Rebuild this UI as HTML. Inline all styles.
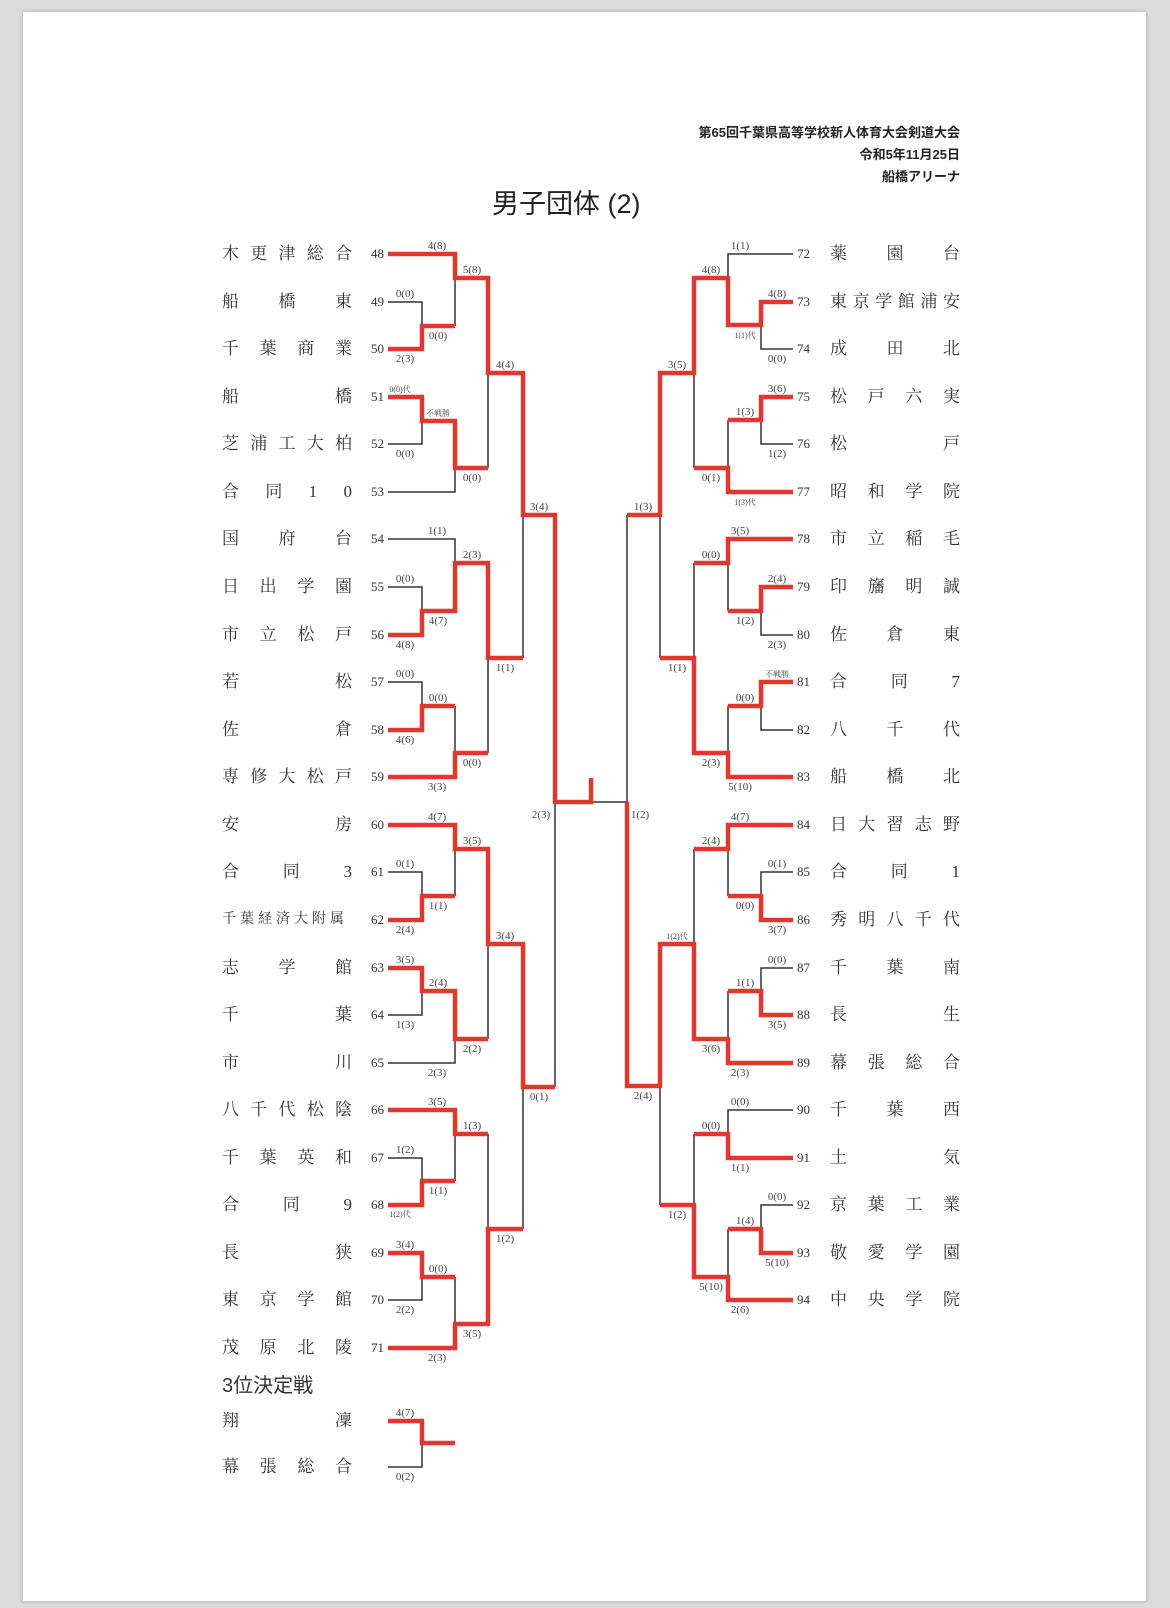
<!DOCTYPE html>
<html><head><meta charset="utf-8">
<style>
html,body{margin:0;padding:0;}
body{width:1170px;height:1608px;background:#dcdcdc;position:relative;overflow:hidden;font-family:"Liberation Serif","Noto Serif CJK SC",serif;color:#333;}
#paper{position:absolute;left:23px;top:12px;width:1123px;height:1589px;background:#fff;box-shadow:0 0 4px rgba(0,0,0,0.25);}
.n{position:absolute;width:130px;height:22px;display:flex;justify-content:space-between;align-items:center;font-size:17px;line-height:22px;color:#333;}
.l{left:222px;}
.r{left:830px;}
.num{position:absolute;font-size:13px;line-height:16px;color:#333;}
.nl{left:344px;width:40px;text-align:right;}
.nr{left:797px;}
.hd{position:absolute;right:210px;font-family:"Liberation Sans","Noto Sans CJK JP",sans-serif;font-weight:bold;font-size:13px;color:#222;text-align:right;white-space:nowrap;}
svg{position:absolute;left:0;top:0;}
svg text{font-family:"Liberation Serif","Noto Serif CJK SC",serif;font-size:11px;fill:#444;text-anchor:middle;}
svg text.s{font-size:8px;}
</style></head><body>
<div id="paper"></div>
<div class="hd" style="top:122px">第65回千葉県高等学校新人体育大会剣道大会</div>
<div class="hd" style="top:144px">令和5年11月25日</div>
<div class="hd" style="top:166px">船橋アリーナ</div>
<div style="position:absolute;left:492px;top:186px;font-family:'Liberation Sans','Noto Sans CJK JP',sans-serif;font-size:27px;line-height:36px;color:#222;">男子団体 (2)</div>
<div style="position:absolute;left:222px;top:1373px;font-family:'Liberation Sans','Noto Sans CJK JP',sans-serif;font-size:20px;line-height:26px;color:#333;">3位決定戦</div>

<!-- left names -->
<div class="n l" style="top:243px"><span>木</span><span>更</span><span>津</span><span>総</span><span>合</span></div>
<div class="n l" style="top:291px"><span>船</span><span>橋</span><span>東</span></div>
<div class="n l" style="top:338px"><span>千</span><span>葉</span><span>商</span><span>業</span></div>
<div class="n l" style="top:386px"><span>船</span><span>橋</span></div>
<div class="n l" style="top:433px"><span>芝</span><span>浦</span><span>工</span><span>大</span><span>柏</span></div>
<div class="n l" style="top:481px"><span>合</span><span>同</span><span>1</span><span>0</span></div>
<div class="n l" style="top:528px"><span>国</span><span>府</span><span>台</span></div>
<div class="n l" style="top:576px"><span>日</span><span>出</span><span>学</span><span>園</span></div>
<div class="n l" style="top:624px"><span>市</span><span>立</span><span>松</span><span>戸</span></div>
<div class="n l" style="top:671px"><span>若</span><span>松</span></div>
<div class="n l" style="top:719px"><span>佐</span><span>倉</span></div>
<div class="n l" style="top:766px"><span>専</span><span>修</span><span>大</span><span>松</span><span>戸</span></div>
<div class="n l" style="top:814px"><span>安</span><span>房</span></div>
<div class="n l" style="top:861px"><span>合</span><span>同</span><span>3</span></div>
<div class="n l" style="top:909px;font-size:14px;justify-content:flex-start;letter-spacing:4px;">千葉経済大附属</div>
<div class="n l" style="top:957px"><span>志</span><span>学</span><span>館</span></div>
<div class="n l" style="top:1004px"><span>千</span><span>葉</span></div>
<div class="n l" style="top:1052px"><span>市</span><span>川</span></div>
<div class="n l" style="top:1099px"><span>八</span><span>千</span><span>代</span><span>松</span><span>陰</span></div>
<div class="n l" style="top:1147px"><span>千</span><span>葉</span><span>英</span><span>和</span></div>
<div class="n l" style="top:1194px"><span>合</span><span>同</span><span>9</span></div>
<div class="n l" style="top:1242px"><span>長</span><span>狭</span></div>
<div class="n l" style="top:1289px"><span>東</span><span>京</span><span>学</span><span>館</span></div>
<div class="n l" style="top:1337px"><span>茂</span><span>原</span><span>北</span><span>陵</span></div>
<div class="n l" style="top:1410px"><span>翔</span><span>凜</span></div>
<div class="n l" style="top:1456px"><span>幕</span><span>張</span><span>総</span><span>合</span></div>

<!-- right names -->
<div class="n r" style="top:243px"><span>薬</span><span>園</span><span>台</span></div>
<div class="n r" style="top:291px"><span>東</span><span>京</span><span>学</span><span>館</span><span>浦</span><span>安</span></div>
<div class="n r" style="top:338px"><span>成</span><span>田</span><span>北</span></div>
<div class="n r" style="top:386px"><span>松</span><span>戸</span><span>六</span><span>実</span></div>
<div class="n r" style="top:433px"><span>松</span><span>戸</span></div>
<div class="n r" style="top:481px"><span>昭</span><span>和</span><span>学</span><span>院</span></div>
<div class="n r" style="top:528px"><span>市</span><span>立</span><span>稲</span><span>毛</span></div>
<div class="n r" style="top:576px"><span>印</span><span>旛</span><span>明</span><span>誠</span></div>
<div class="n r" style="top:624px"><span>佐</span><span>倉</span><span>東</span></div>
<div class="n r" style="top:671px"><span>合</span><span>同</span><span>7</span></div>
<div class="n r" style="top:719px"><span>八</span><span>千</span><span>代</span></div>
<div class="n r" style="top:766px"><span>船</span><span>橋</span><span>北</span></div>
<div class="n r" style="top:814px"><span>日</span><span>大</span><span>習</span><span>志</span><span>野</span></div>
<div class="n r" style="top:861px"><span>合</span><span>同</span><span>1</span></div>
<div class="n r" style="top:909px"><span>秀</span><span>明</span><span>八</span><span>千</span><span>代</span></div>
<div class="n r" style="top:957px"><span>千</span><span>葉</span><span>南</span></div>
<div class="n r" style="top:1004px"><span>長</span><span>生</span></div>
<div class="n r" style="top:1052px"><span>幕</span><span>張</span><span>総</span><span>合</span></div>
<div class="n r" style="top:1099px"><span>千</span><span>葉</span><span>西</span></div>
<div class="n r" style="top:1147px"><span>土</span><span>気</span></div>
<div class="n r" style="top:1194px"><span>京</span><span>葉</span><span>工</span><span>業</span></div>
<div class="n r" style="top:1242px"><span>敬</span><span>愛</span><span>学</span><span>園</span></div>
<div class="n r" style="top:1289px"><span>中</span><span>央</span><span>学</span><span>院</span></div>

<!-- numbers -->
<div class="num nl" style="top:246px">48</div><div class="num nl" style="top:294px">49</div><div class="num nl" style="top:341px">50</div><div class="num nl" style="top:389px">51</div><div class="num nl" style="top:436px">52</div><div class="num nl" style="top:484px">53</div><div class="num nl" style="top:531px">54</div><div class="num nl" style="top:579px">55</div><div class="num nl" style="top:627px">56</div><div class="num nl" style="top:674px">57</div><div class="num nl" style="top:722px">58</div><div class="num nl" style="top:769px">59</div><div class="num nl" style="top:817px">60</div><div class="num nl" style="top:864px">61</div><div class="num nl" style="top:912px">62</div><div class="num nl" style="top:960px">63</div><div class="num nl" style="top:1007px">64</div><div class="num nl" style="top:1055px">65</div><div class="num nl" style="top:1102px">66</div><div class="num nl" style="top:1150px">67</div><div class="num nl" style="top:1197px">68</div><div class="num nl" style="top:1245px">69</div><div class="num nl" style="top:1292px">70</div><div class="num nl" style="top:1340px">71</div>
<div class="num nr" style="top:246px">72</div><div class="num nr" style="top:294px">73</div><div class="num nr" style="top:341px">74</div><div class="num nr" style="top:389px">75</div><div class="num nr" style="top:436px">76</div><div class="num nr" style="top:484px">77</div><div class="num nr" style="top:531px">78</div><div class="num nr" style="top:579px">79</div><div class="num nr" style="top:627px">80</div><div class="num nr" style="top:674px">81</div><div class="num nr" style="top:722px">82</div><div class="num nr" style="top:769px">83</div><div class="num nr" style="top:817px">84</div><div class="num nr" style="top:864px">85</div><div class="num nr" style="top:912px">86</div><div class="num nr" style="top:960px">87</div><div class="num nr" style="top:1007px">88</div><div class="num nr" style="top:1055px">89</div><div class="num nr" style="top:1102px">90</div><div class="num nr" style="top:1150px">91</div><div class="num nr" style="top:1197px">92</div><div class="num nr" style="top:1245px">93</div><div class="num nr" style="top:1292px">94</div>

<svg width="1170" height="1608" viewBox="0 0 1170 1608">
<path fill="none" stroke="#333" stroke-width="1.5" d="
M388 302H422V326 M455 278V326 M388 444H422V421 M388 492H455V468 M488 373V468
M388 539H455V563 M388 587H422V611 M388 682H422V706 M455 706V753 M488 658V753 M523 515V658
M388 872H422V896 M455 849V896 M422 991V1015H388 M388 1063H455V1039 M488 944V1039
M388 1158H422V1181 M455 1134V1181 M422 1277V1300H388 M455 1277V1324 M488 1134V1229 M523 1087V1229
M555 802V1087 M591 802H627V515
M793 254H728V278 M761 325V349H793 M761 420V444H793 M728 420V468 M694 373V468 M660 515V658
M728 563V611 M761 611V635H793 M761 706V730H793 M728 706V753 M694 563V658
M793 872H761V896 M728 849V896 M793 968H761V991 M728 991V1039 M694 849V944 M660 1086V1205
M793 1110H728V1134 M793 1205H761V1229 M728 1229V1277 M694 1134V1205
M388 1467H422V1443"/>
<path fill="none" stroke="#e0372e" stroke-width="4.5" stroke-linejoin="miter" d="
M388 254H455V278H488V373H523V515H555V802H591V778
M388 349H422V326H455
M388 397H422V421H455V468H488
M388 635H422V611H455V563H488V658H523
M388 730H422V706H455
M388 777H455V753H488
M388 825H455V849H488V944H523V1087H555
M388 920H422V896H455
M388 968H422V991H455V1039H488
M388 1110H455V1134H488
M388 1205H422V1181H455
M388 1253H422V1277H455
M388 1348H455V1324H488V1229H523
M793 302H761V325H728V278H694V373H660V515H627
M793 397H761V420H728
M793 492H728V468H694
M793 539H728V563H694
M793 587H761V611H728
M793 682H761V706H728
M793 777H728V753H694V658H660
M793 825H728V849H694
M793 920H761V896H728
M793 1015H761V991H728
M793 1063H728V1039H694V944H660V1086H627V802
M793 1158H728V1134H694
M793 1253H761V1229H728
M793 1300H728V1277H694V1205H660
M388 1421H422V1443H455"/>
<!-- left labels -->
<text x="437" y="249">4(8)</text><text x="405" y="297">0(0)</text><text x="405" y="362">2(3)</text><text x="438" y="339">0(0)</text><text x="472" y="273">5(8)</text>
<text class="s" x="400" y="392">0(0)代</text><text x="405" y="457">0(0)</text><text class="s" x="438" y="416">不戦勝</text><text x="472" y="481">0(0)</text><text x="505" y="368">4(4)</text>
<text x="437" y="534">1(1)</text><text x="405" y="582">0(0)</text><text x="405" y="648">4(8)</text><text x="438" y="624">4(7)</text><text x="472" y="558">2(3)</text>
<text x="405" y="677">0(0)</text><text x="405" y="743">4(6)</text><text x="438" y="701">0(0)</text><text x="437" y="790">3(3)</text><text x="472" y="766">0(0)</text><text x="505" y="671">1(1)</text><text x="539" y="510">3(4)</text>
<text x="437" y="820">4(7)</text><text x="405" y="867">0(1)</text><text x="405" y="933">2(4)</text><text x="438" y="909">1(1)</text><text x="472" y="844">3(5)</text>
<text x="405" y="963">3(5)</text><text x="405" y="1028">1(3)</text><text x="438" y="986">2(4)</text><text x="437" y="1076">2(3)</text><text x="472" y="1052">2(2)</text><text x="505" y="939">3(4)</text>
<text x="437" y="1105">3(5)</text><text x="405" y="1153">1(2)</text><text class="s" x="400" y="1217">1(2)代</text><text x="438" y="1194">1(1)</text><text x="472" y="1129">1(3)</text>
<text x="405" y="1248">3(4)</text><text x="405" y="1313">2(2)</text><text x="438" y="1272">0(0)</text><text x="437" y="1361">2(3)</text><text x="472" y="1337">3(5)</text><text x="505" y="1242">1(2)</text><text x="539" y="1100">0(1)</text>
<text x="541" y="818">2(3)</text><text x="640" y="818">1(2)</text>
<!-- right labels -->
<text x="643" y="510">1(3)</text><text x="677" y="368">3(5)</text><text x="740" y="249">1(1)</text><text x="777" y="297">4(8)</text><text x="777" y="362">0(0)</text><text class="s" x="745" y="338">1(1)代</text><text x="711" y="273">4(8)</text>
<text x="777" y="392">3(6)</text><text x="777" y="457">1(2)</text><text x="745" y="415">1(3)</text><text class="s" x="745" y="505">1(3)代</text><text x="711" y="481">0(1)</text>
<text x="740" y="534">3(5)</text><text x="777" y="582">2(4)</text><text x="777" y="648">2(3)</text><text x="745" y="624">1(2)</text><text x="711" y="558">0(0)</text>
<text class="s" x="777" y="677">不戦勝</text><text x="745" y="701">0(0)</text><text x="740" y="790">5(10)</text><text x="711" y="766">2(3)</text><text x="677" y="671">1(1)</text>
<text x="740" y="820">4(7)</text><text x="777" y="867">0(1)</text><text x="777" y="933">3(7)</text><text x="745" y="909">0(0)</text><text x="711" y="844">2(4)</text>
<text x="777" y="963">0(0)</text><text x="777" y="1028">3(5)</text><text x="745" y="986">1(1)</text><text x="740" y="1076">2(3)</text><text x="711" y="1052">3(6)</text><text class="s" x="677" y="939">1(2)代</text><text x="643" y="1099">2(4)</text>
<text x="740" y="1105">0(0)</text><text x="740" y="1171">1(1)</text><text x="711" y="1129">0(0)</text><text x="777" y="1200">0(0)</text><text x="777" y="1266">5(10)</text><text x="745" y="1224">1(4)</text>
<text x="740" y="1313">2(6)</text><text x="711" y="1290">5(10)</text><text x="677" y="1218">1(2)</text>
<text x="405" y="1416">4(7)</text><text x="405" y="1480">0(2)</text>
</svg>
</body></html>
